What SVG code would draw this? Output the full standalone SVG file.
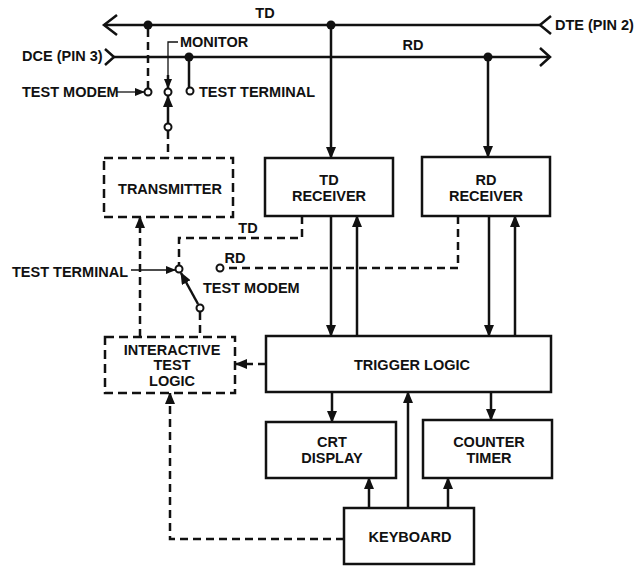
<svg xmlns="http://www.w3.org/2000/svg" width="636" height="566" viewBox="0 0 636 566">
<style>
text{font-family:"Liberation Sans",Arial,sans-serif;font-weight:bold;font-size:14.5px;fill:#111;}
.m{text-anchor:middle;}
.box{fill:#fff;stroke:#111;stroke-width:2.5;}
.dbox{fill:#fff;stroke:#111;stroke-width:2.5;stroke-dasharray:9 5;}
.w{fill:none;stroke:#111;stroke-width:2.5;}
.d{fill:none;stroke:#111;stroke-width:2.5;stroke-dasharray:8 5;}
.t{fill:none;stroke:#111;stroke-width:1.3;}
.c{fill:#fff;stroke:#111;stroke-width:2;}
.dot{fill:#111;}
</style>
<defs>
<marker id="a" markerUnits="userSpaceOnUse" viewBox="0 0 12 10" markerWidth="12" markerHeight="10" refX="11" refY="5" orient="auto"><path d="M0,0 L12,5 L0,10 z" fill="#111"/></marker>
<marker id="s" markerUnits="userSpaceOnUse" viewBox="0 0 10 8" markerWidth="10" markerHeight="8" refX="9" refY="4" orient="auto"><path d="M0,0 L10,4 L0,8 z" fill="#111"/></marker>
</defs>
<g id="connectors">
<line class="w" x1="104" y1="25" x2="540" y2="25"/>
<polyline class="w" points="117,15 104,25 117,35"/>
<polyline class="w" points="551,16 540,25 551,34"/>
<line class="w" x1="114" y1="57" x2="550" y2="57"/>
<polyline class="w" points="105,49 114,57 105,65"/>
<polyline class="w" points="540,48 550,57 540,66"/>
<circle class="dot" cx="148" cy="25" r="4.5"/>
<circle class="dot" cx="331" cy="25" r="4.5"/>
<circle class="dot" cx="189" cy="57" r="4.5"/>
<circle class="dot" cx="488" cy="57" r="4.5"/>
<line class="d" x1="148" y1="29" x2="148" y2="88"/>
<line class="w" x1="189" y1="60" x2="189" y2="88"/>
<polyline class="t" points="178,42 168,42 168,80"/>
<line class="w" x1="168" y1="75" x2="168" y2="88" marker-end="url(#s)"/>
<line class="w" x1="168" y1="124" x2="168" y2="96" marker-end="url(#a)"/>
<line class="d" x1="168" y1="131" x2="168" y2="158"/>
<line class="t" x1="117" y1="92" x2="144" y2="92" marker-end="url(#s)"/>
<line class="w" x1="331" y1="25" x2="331" y2="158" marker-end="url(#a)"/>
<line class="w" x1="488" y1="57" x2="488" y2="157" marker-end="url(#a)"/>
<line class="w" x1="331" y1="216" x2="331" y2="336" marker-end="url(#a)"/>
<line class="w" x1="357" y1="336" x2="357" y2="216" marker-end="url(#a)"/>
<line class="w" x1="489" y1="216" x2="489" y2="336" marker-end="url(#a)"/>
<line class="w" x1="515" y1="336" x2="515" y2="216" marker-end="url(#a)"/>
<polyline class="d" points="302,216 302,238 179,238 179,265"/>
<polyline class="d" points="458,216 458,268 224,268"/>
<line class="t" x1="131" y1="270" x2="175" y2="270" marker-end="url(#s)"/>
<line class="w" x1="198" y1="304" x2="181" y2="273" marker-end="url(#a)"/>
<line class="d" x1="200" y1="312" x2="200" y2="337"/>
<line class="d" x1="140" y1="337" x2="140" y2="217" marker-end="url(#a)"/>
<line class="d" x1="266" y1="364" x2="236" y2="364" marker-end="url(#a)"/>
<line class="w" x1="332" y1="392" x2="332" y2="422" marker-end="url(#a)"/>
<line class="w" x1="491" y1="392" x2="491" y2="420" marker-end="url(#a)"/>
<line class="w" x1="369" y1="508" x2="369" y2="478" marker-end="url(#a)"/>
<line class="w" x1="408" y1="508" x2="408" y2="392" marker-end="url(#a)"/>
<line class="w" x1="448" y1="508" x2="448" y2="478" marker-end="url(#a)"/>
<polyline class="d" points="344,539 170,539 170,393" marker-end="url(#a)"/>
<circle class="c" cx="148" cy="92" r="3.5"/>
<circle class="c" cx="168" cy="92" r="3.5"/>
<circle class="c" cx="190" cy="91" r="3.5"/>
<circle class="c" cx="168" cy="127" r="3.5"/>
<circle class="c" cx="179" cy="269" r="3.5"/>
<circle class="c" cx="220" cy="268" r="3.5"/>
<circle class="c" cx="200" cy="308" r="3.5"/>
</g>
<g id="labels">
<text class="m" x="265" y="18">TD</text>
<text class="m" x="413" y="50">RD</text>
<text x="555" y="30">DTE (PIN 2)</text>
<text x="22" y="61">DCE (PIN 3)</text>
<text x="180" y="47">MONITOR</text>
<text x="22" y="97">TEST MODEM</text>
<text x="199" y="97">TEST TERMINAL</text>
<text class="m" x="248" y="233">TD</text>
<text class="m" x="235" y="263">RD</text>
<text x="12" y="277">TEST TERMINAL</text>
<text x="203" y="293">TEST MODEM</text>
</g>
<g id="transmitter">
<rect class="dbox" x="104" y="158" width="129" height="59"/>
<text class="m" x="170" y="194">TRANSMITTER</text>
</g>
<g id="td-receiver">
<rect class="box" x="265" y="158" width="128" height="58"/>
<text class="m" x="329" y="185">TD</text>
<text class="m" x="329" y="201">RECEIVER</text>
</g>
<g id="rd-receiver">
<rect class="box" x="422" y="157" width="128" height="59"/>
<text class="m" x="486" y="185">RD</text>
<text class="m" x="486" y="201">RECEIVER</text>
</g>
<g id="interactive-test-logic">
<rect class="dbox" x="105" y="337" width="130" height="56"/>
<text class="m" x="172" y="355">INTERACTIVE</text>
<text class="m" x="172" y="370">TEST</text>
<text class="m" x="172" y="386">LOGIC</text>
</g>
<g id="trigger-logic">
<rect class="box" x="266" y="336" width="285" height="56"/>
<text class="m" x="412" y="370">TRIGGER LOGIC</text>
</g>
<g id="crt-display">
<rect class="box" x="266" y="422" width="130" height="56"/>
<text class="m" x="332" y="447">CRT</text>
<text class="m" x="332" y="463">DISPLAY</text>
</g>
<g id="counter-timer">
<rect class="box" x="423" y="420" width="129" height="58"/>
<text class="m" x="489" y="447">COUNTER</text>
<text class="m" x="489" y="463">TIMER</text>
</g>
<g id="keyboard">
<rect class="box" x="344" y="508" width="130" height="56"/>
<text class="m" x="410" y="542">KEYBOARD</text>
</g>
</svg>
